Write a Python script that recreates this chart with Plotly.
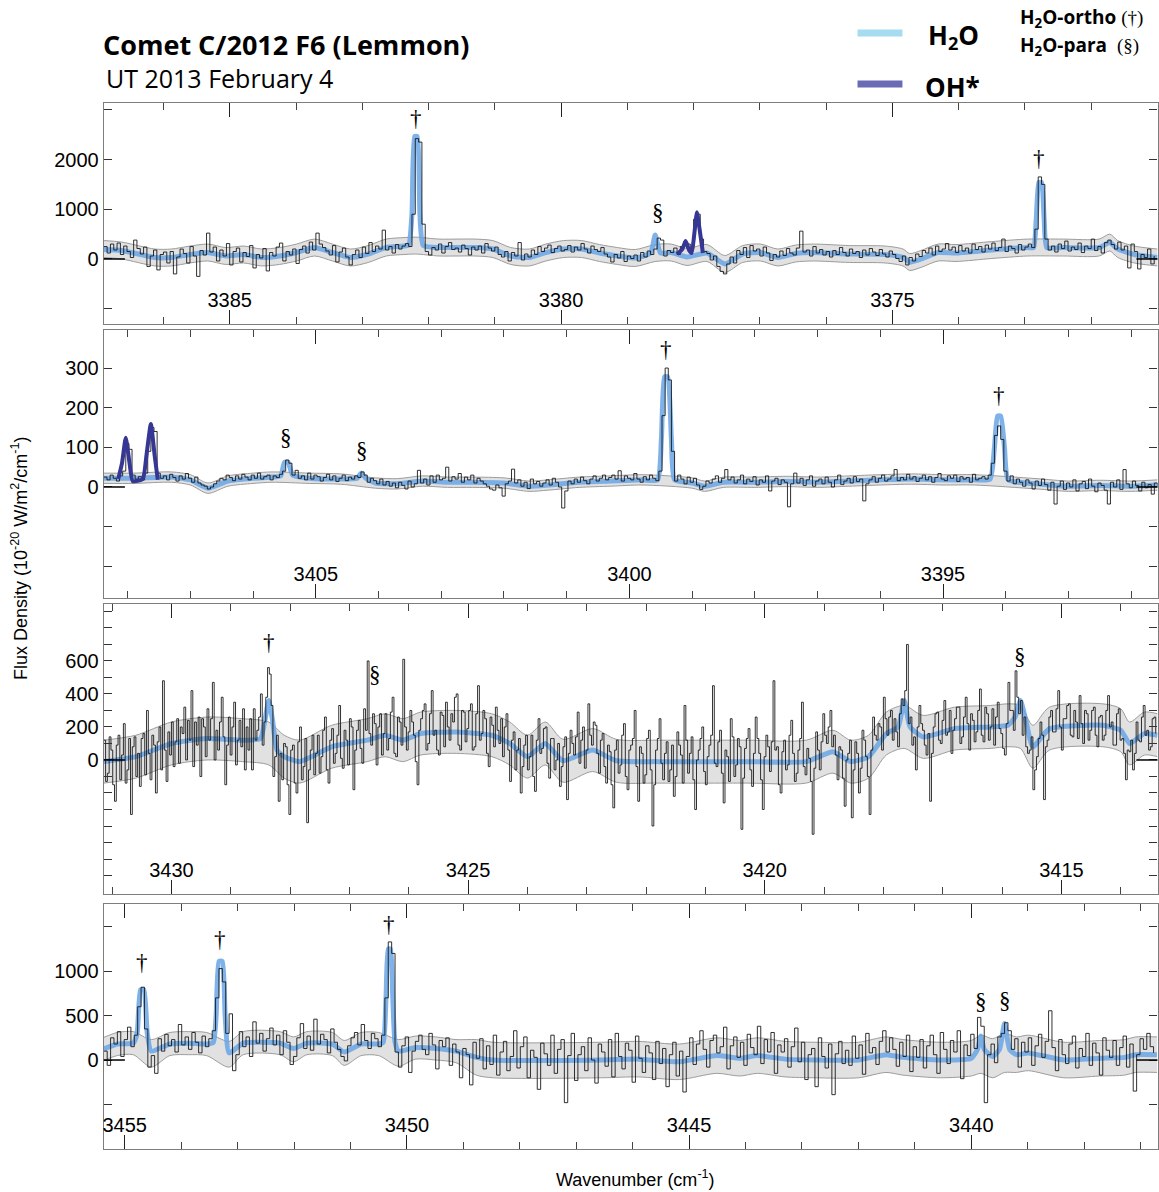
import plotly.graph_objects as go

# ---------------- DATA ----------------
# Panel 1 (3386.9 -> 3371.0 cm-1), observed flux, uniform grid
p1_start, p1_step = 3386.9, -0.05
p1_flux = [250, 120, 300, 180, 320, 90, 260, 150, 30, 380, 210, 100, 240, -150, 60, 180, -220, 90, 140, -80,
           150, -300, 40, 200, 110, -80, 250, 60, -350, 170, 80, 520, 140, 240, -40, 180, 60, 310, -120, 150,
           220, -60, 130, 50, 270, -180, 90, 20, 210, -240, 130, 60, 240, 320, -40, 150, 80, 200, -90, 190,
           260, 120, 340, 180, 520, 300, 230, 160, 80, 270, -60, 140, 220, 40, -120, 90, 180, 30, 240, 110,
           330, 150, 260, 200, 580, 180, 250, 120, 290, 200, 260, 310, 250, 900, 2420, 2350, 700, 150, 80, 230,
           180, 300, 120, 250, 330, 190, 220, 140, 280, 210, 80, 240, 180, 260, 120, 310, 220, 160, 240, 90,
           40, 150, -40, 130, 60, 330, -20, 100, 40, 180, 90, 250, 150, 220, 280, 130, 210, 260, 160, 190,
           270, 140, 240, 180, 310, 200, 120, 260, 190, 150, 230, 100, 40, -60, 90, 20, 150, -50, 60, 10,
           80, -40, 130, 40, 160, 90, 200, 420, 380, 60, 170, 130, 220, 90, 250, 350, 300, 200, 800, 900,
           400, 150, 110, -20, 60, -150, -250, -300, -100, 40, -80, 170, 90, 230, 30, 270, 160, 200, 60, 240,
           120, -30, 90, 40, 160, 70, 210, 120, 80, 220, 560, 140, 180, 60, 250, 120, 190, 80, 150, 40,
           170, 90, 230, 130, 60, 200, 110, 150, 30, 180, 80, 210, 140, 70, 190, 100, 40, 160, 90, 10,
           -50, 60, -120, 30, -40, 100, 50, 170, 120, 220, 80, 260, 150, 200, 310, 180, 240, 130, 270, 160,
           220, 120, 300, 190, 250, 140, 280, 200, 320, 170, 230, 400, 150, 260, 210, 120, 290, 180, 240, 300,
           230, 600, 1650, 1500, 400, 180, 260, 140, 300, 210, 360, 160, 240, 190, 320, 130, 260, 210, 400, 170,
           250, 120, 330, 380, 290, 200, 340, 180, 260, -180, 300, 150, -200, 90, 30, 200, -100, 60]
p1_model_x = [3386.9, 3386.63, 3386.13, 3385.88, 3385.6, 3385.33, 3385.06, 3384.79, 3384.52, 3384.25, 3383.99,
              3383.72, 3383.45, 3383.18, 3382.91, 3382.64, 3382.37, 3382.3, 3382.25, 3382.21, 3382.17, 3382.13,
              3382.08, 3381.84, 3381.57, 3381.3, 3381.03, 3380.76, 3380.48, 3380.23, 3379.96, 3379.69, 3379.42,
              3379.15, 3378.88, 3378.65, 3378.58, 3378.5, 3378.34, 3378.1, 3377.8, 3377.53, 3377.26, 3376.99,
              3376.73, 3376.46, 3376.19, 3375.65, 3375.11, 3374.84, 3374.74, 3374.57, 3374.31, 3374.04, 3373.5,
              3372.96, 3372.87, 3372.83, 3372.79, 3372.75, 3372.71, 3372.67, 3372.42, 3371.88, 3371.72, 3371.6,
              3371.35, 3371.0]
p1_model_y = [190, 170, 30, 30, 90, 130, 60, 90, 30, 60, 130, 230, 130, 30, 100, 230, 260, 280, 900, 2460, 2460,
              900, 270, 230, 230, 230, 200, 60, 30, 130, 200, 200, 120, 60, 20, 120, 480, 120, 130, 40, 120, -100,
              100, 130, 30, 110, 130, 100, 90, 30, -60, 0, 130, 120, 180, 230, 230, 800, 1540, 1540, 800, 230, 230,
              230, 330, 200, 90, 30]
p1_band_x = [3386.9, 3386.63, 3386.13, 3385.88, 3385.6, 3385.33, 3385.06, 3384.79, 3384.52, 3384.25, 3383.99,
             3383.72, 3383.45, 3383.18, 3382.91, 3382.64, 3382.37, 3382.2, 3381.84, 3381.57, 3381.3, 3381.03,
             3380.76, 3380.48, 3380.23, 3379.96, 3379.69, 3379.42, 3379.15, 3378.88, 3378.58, 3378.34, 3378.1,
             3377.8, 3377.53, 3377.26, 3376.99, 3376.73, 3376.46, 3376.19, 3375.65, 3375.11, 3374.84, 3374.74,
             3374.57, 3374.31, 3374.04, 3373.5, 3372.96, 3372.42, 3371.88, 3371.72, 3371.6, 3371.35, 3371.0]
p1_band_lo = [30, 0, -140, -140, -80, -40, -110, -80, -140, -110, -40, 60, -40, -140, -70, 60, 90, 100, 60, 60,
              60, 30, -110, -140, -40, 30, 30, -50, -110, -150, -50, -40, -130, -50, -270, -70, -40, -140, -60,
              -40, -70, -80, -140, -230, -170, -40, -50, 10, 60, 60, 60, 160, 30, -80, -140]
p1_band_hi = [370, 340, 200, 200, 260, 300, 230, 260, 200, 230, 300, 400, 300, 200, 270, 400, 430, 440, 400, 400,
              400, 370, 230, 200, 300, 370, 370, 290, 230, 190, 290, 300, 210, 290, 70, 270, 300, 200, 280, 300,
              270, 260, 200, 110, 170, 300, 290, 350, 400, 400, 400, 500, 370, 260, 200]
p1_oh_x = [3378.25, 3378.17, 3378.12, 3378.07, 3378.03, 3377.99, 3377.95, 3377.91, 3377.86]
p1_oh_y = [100, 200, 360, 180, 120, 500, 940, 600, 120]
p1_marks = [("†", 3382.19, 2820), ("§", 3378.54, 940), ("†", 3372.79, 2020)]

# Panel 2 (3408.38 -> 3391.58 cm-1)
p2_start, p2_step = 3408.38, -0.05
p2_flux = [25, 18, 30, 22, 15, 28, 40, 110, 95, 30, 20, 26, 18, 35, 90, 150, 140, 35, 22, 28,
           18, 32, 24, 15, 28, 20, 34, 22, 12, 25, 10, 5, 2, -5, 0, 8, 15, 22, 18, 30,
           24, 16, 28, 20, 32, 25, 18, 30, 22, 35, 20, 26, 30, 18, 28, 24, 32, 40, 68, 60,
           30, 42, 22, 28, 18, 35, 20, 30, 26, 15, 24, 32, 18, 28, 14, 22, 30, 16, 25, 20,
           28, 24, 38, 30, 12, 22, 16, 8, 20, 5, 14, 2, 10, -2, 12, 4, -5, 15, 0, 8,
           42, 10, 20, 5, 28, 12, 30, 18, 22, 50, 15, 26, 20, 34, 12, 25, 18, 30, 10, 22,
           15, 8, 2, -5, -8, 5, -2, -23, 8, 15, 45, 10, 18, 2, 12, -4, 20, 8, 14, 2,
           10, 18, 5, 22, 12, 0, -53, -10, 15, 8, 20, 12, 25, 16, 8, 20, 28, 15, 22, 30,
           18, 24, 30, 20, 41, 15, 28, 22, 18, 34, 20, 12, 26, 18, 30, 22, 16, 40, 180, 300,
           270, 90, 15, 30, 20, 8, 25, 12, 22, 5, -6, 2, 15, 10, 20, 28, 12, 22, 44, 18,
           25, 10, 18, 30, 8, 20, 14, 26, 5, 18, 12, 28, -10, 15, 22, 6, 18, 12, -50, 8,
           35, 10, 22, 4, 18, 28, 2, 15, 20, 8, 25, 12, 0, 18, 30, 6, 15, 22, 10, 26,
           14, 20, -35, 8, 18, 26, 12, 22, 30, 15, 20, 28, 44, 16, 24, 18, 32, 20, 26, 14,
           22, 30, 18, 26, 12, 24, 34, 20, 16, 28, 22, 30, 14, 26, 20, 24, 12, 32, 18, 22,
           26, 20, 30, 60, 130, 154, 120, 40, 15, 28, 8, 20, 12, 2, 18, 10, -5, 15, 4, 20,
           6, -8, 12, -43, 2, 15, -6, 10, 0, 18, -10, 8, 14, -4, 20, 2, -12, 10, 4, -8,
           -43, 12, 0, 18, -6, 44, 8, -2, 15, 4, -10, 12, -2, 6, -18, 10, 2]
p2_model_x = [3408.38, 3407.9, 3407.3, 3407.0, 3406.72, 3406.4, 3406.0, 3405.7, 3405.56, 3405.5, 3405.44,
              3405.37, 3405.1, 3404.6, 3404.34, 3404.28, 3404.2, 3404.05, 3403.7, 3403.3, 3402.9, 3402.5,
              3402.0, 3401.6, 3401.3, 3400.8, 3400.3, 3399.8, 3399.55, 3399.49, 3399.44, 3399.39, 3399.33,
              3399.28, 3399.0, 3398.8, 3398.5, 3398.0, 3397.5, 3397.0, 3396.5, 3396.0, 3395.5, 3395.0, 3394.5,
              3394.25, 3394.18, 3394.13, 3394.08, 3394.02, 3393.96, 3393.5, 3393.0, 3392.5, 3392.0, 3391.58]
p2_model_y = [22, 22, 25, 18, -3, 15, 22, 25, 28, 62, 62, 30, 22, 20, 22, 35, 22, 10, 8, 15, 12, 12, 10, 2, 5,
              12, 15, 18, 18, 120, 278, 278, 120, 18, 10, 2, 12, 12, 14, 12, 15, 18, 20, 18, 18, 20, 100, 179,
              179, 100, 18, 8, 2, 4, 2, 5]
p2_band_x = [3408.38, 3407.9, 3407.3, 3407.0, 3406.72, 3406.4, 3406.0, 3405.7, 3405.1, 3404.6, 3404.05, 3403.7,
             3403.3, 3402.9, 3402.5, 3402.0, 3401.6, 3401.3, 3400.8, 3400.3, 3399.8, 3399.0, 3398.8, 3398.5,
             3398.0, 3397.5, 3397.0, 3396.5, 3396.0, 3395.5, 3395.0, 3394.5, 3393.5, 3393.0, 3392.5, 3392.0,
             3391.58]
p2_band_lo = [9, 9, 12, 5, -16, 2, 9, 12, 9, 7, -3, -5, 2, -1, -1, -3, -11, -8, -1, 2, 5, -3, -11, -1, -1, 1,
              -1, 2, 5, 7, 5, 5, -5, -11, -9, -11, -8]
p2_band_hi = [35, 35, 38, 31, 10, 28, 35, 38, 35, 33, 23, 21, 28, 25, 25, 23, 15, 18, 25, 28, 31, 23, 15, 25,
              25, 27, 25, 28, 31, 33, 31, 31, 21, 15, 17, 15, 18]
p2_oh_x = [3408.15, 3408.09, 3408.03, 3407.97, 3407.92, 3407.76, 3407.7, 3407.63, 3407.57, 3407.52]
p2_oh_y = [20, 60, 124, 60, 15, 20, 80, 159, 80, 18]
p2_marks = [("§", 3405.47, 124), ("§", 3404.27, 91), ("†", 3399.42, 348), ("†", 3394.11, 230)]

# Panel 3 (3431.14 -> 3413.38 cm-1)
p3_start, p3_step = 3431.14, -0.03
p3_flux = [120, -130, -80, 140, 60, -150, -250, 90, 150, -120, 30, 220, -140, -60, 130, -330, 80, 140, -100, 40,
           -160, 130, 160, -90, 300, 40, -120, 150, 90, -200, 110, 200, -60, 480, 60, -130, 170, 30, 230, -40,
           110, 250, -20, 200, 160, 320, 0, 240, 120, 420, -40, 230, 90, 260, -100, 250, 200, 20, 310, 120,
           250, 470, 0, 180, 60, 230, 380, 140, -150, 90, 260, 30, 200, 350, -30, 120, 240, 80, 310, -60,
           200, 60, 250, -60, 310, 120, 180, 260, 400, 90, 230, 380, 560, 520, 330, -100, 20, 150, -250, 40,
           -120, 100, 80, -150, -330, 60, 90, -140, -200, 110, 200, -120, -40, 130, -380, -60, 60, 150, -90, 40,
           150, -80, 20, 180, 260, -60, -140, 120, 190, -20, 40, 150, 330, 10, -50, 180, 120, -30, 250, 200,
           -180, 60, 180, 240, 70, -20, 310, 180, 600, 160, 90, 280, 220, -30, 200, 280, 30, 160, 280, 60,
           130, 290, 380, 40, 20, 260, 230, 90, 610, 200, 60, 170, 300, 230, 150, -10, -150, 180, 250, 300,
           340, 60, 100, 280, 420, 150, 180, 60, 30, 290, 270, 80, 350, 200, 120, 280, 230, 380, 400, 90,
           60, 300, 290, 110, 190, 300, 340, 60, 80, 280, 450, 120, 160, 300, 250, 40, -40, 260, 210, 80,
           320, 180, 100, 250, 20, 200, 280, 60, -130, 120, 170, -60, 60, 130, -200, -40, 90, 150, -60, 20,
           150, -100, -190, 120, 250, 40, 70, 190, 200, -20, -110, 130, 130, -60, 0, 100, -160, -40, 80, 140,
           -240, 40, 180, 100, 30, 140, 290, -20, 120, 200, -50, 60, 340, 150, 90, 230, 210, 40, -80, 120,
           160, -40, -140, 90, 50, -150, -290, 60, 120, -80, -30, 150, 220, -100, -180, 60, 90, 130, 300, -40,
           -250, 80, 40, -140, -90, 130, 180, -60, -400, -150, 60, 130, 250, -20, -120, 40, 110, -130, -60, 90,
           -220, -100, 170, 90, 30, -140, 330, 120, -80, 40, 140, -120, -300, 0, 60, 130, 200, -70, -150, 20,
           90, 150, 450, -20, -40, 110, 180, -80, -260, 60, 20, -130, 250, 140, -100, -30, 130, 80, -420, -110,
           70, 130, 190, -60, -160, 40, 260, 130, 40, -120, -300, 20, 150, 80, -70, 110, 480, 60, 80, -150,
           -200, 50, 120, -60, -30, 150, 240, 40, -130, -80, 60, 130, 350, -40, -90, 70, 10, -130, -450, -50,
           170, 60, -60, 110, 280, 150, 100, 200, 300, 80, 150, 30, -120, 80, 60, -110, -280, 0, 40, 120,
           -350, -60, 110, 40, -200, -50, 180, 120, 20, -100, -330, 60, 260, 150, 120, 220, 200, 60, 380, 250,
           150, 260, 300, 120, 250, 170, 80, 280, 370, 330, 420, 700, 220, 260, 90, 140, -60, 200, 330, 220,
           180, 90, 30, 160, -250, 40, 200, 280, 290, 120, 100, 240, 360, 150, 170, 300, 40, 180, 250, 320,
           320, 100, 140, 260, 380, 220, 60, 280, 240, 110, 170, 300, 430, 150, 110, 320, 280, 120, 200, 310,
           90, 260, 350, 190, 160, 70, 30, 220, 470, 300, 300, 180, 540, 380, 280, 360, 150, 260, 80, 40,
           60, 140, -180, -60, 20, 130, 230, 150, -240, 80, 120, 260, 300, 170, 170, 310, 420, 200, 60, 250,
           250, 330, 340, 150, 140, 300, 230, 130, 390, 220, 100, 300, 280, 120, 180, 300, 320, 150, 80, 260,
           270, 120, 150, 300, 390, 200, 230, 90, 90, 280, 310, 120, 130, 40, -120, 60, 50, 120, -60, 40,
           230, 120, 110, 260, 330, 150, 180, 60, 80, 250, 260, 160]
p3_model_x = [3431.14, 3430.6, 3430.0, 3429.4, 3428.8, 3428.5, 3428.42, 3428.36, 3428.3, 3428.22, 3428.1,
              3427.84, 3427.3, 3426.7, 3426.4, 3426.1, 3425.8, 3425.2, 3424.6, 3424.3, 3424.0, 3423.7, 3423.4,
              3422.9, 3422.5, 3421.8, 3420.3, 3419.3, 3418.85, 3418.55, 3418.25, 3417.95, 3417.75, 3417.65,
              3417.55, 3417.33, 3416.8, 3416.2, 3415.9, 3415.78, 3415.69, 3415.6, 3415.48, 3415.2, 3414.3,
              3414.0, 3413.85, 3413.6, 3413.38]
p3_model_y = [-10, 20, 100, 130, 120, 130, 250, 360, 250, 60, 20, -10, 80, 120, 150, 120, 160, 170, 150, 100, 20,
              100, -5, 60, -5, -10, -10, -10, 50, -10, 20, 160, 200, 360, 200, 140, 190, 200, 210, 260, 360, 240,
              80, 190, 210, 180, 100, 160, 150]
p3_band_x = [3431.14, 3430.6, 3430.0, 3429.4, 3428.8, 3428.36, 3428.1, 3427.84, 3427.3, 3426.7, 3426.4, 3426.1,
             3425.8, 3425.2, 3424.6, 3424.3, 3424.0, 3423.7, 3423.4, 3422.9, 3422.5, 3421.8, 3420.3, 3419.3,
             3418.85, 3418.55, 3418.25, 3417.95, 3417.65, 3417.33, 3416.8, 3416.2, 3415.9, 3415.69, 3415.48,
             3415.2, 3414.3, 3414.0, 3413.85, 3413.6, 3413.38]
p3_band_lo = [-140, -110, -30, 0, -10, -30, -110, -140, -50, -10, 20, -10, 30, 40, 20, -30, -110, -30, -135, -70,
              -135, -140, -140, -140, -80, -140, -110, 30, 70, 10, 60, 70, 80, 70, -50, 60, 80, 50, -30, 30, 20]
p3_band_hi = [120, 150, 230, 260, 250, 230, 150, 120, 210, 250, 280, 250, 290, 300, 280, 230, 150, 230, 125, 190,
              125, 120, 120, 120, 180, 120, 150, 290, 330, 270, 320, 330, 340, 330, 210, 320, 340, 310, 230, 290,
              280]
p3_marks = [("†", 3428.35, 713), ("§", 3426.57, 515), ("§", 3415.69, 629)]

# Panel 4 (3455.37 -> 3436.7 cm-1)
p4_start, p4_step = 3455.37, -0.06
p4_flux = [100, -60, 250, 180, 320, 40, 230, 370, 150, 280, 600, 820, 350, -80, 50, -150, 240, 100, 290, 160,
           230, 90, 400, 170, 260, 120, 310, 200, 80, 270, 150, 240, 330, 700, 1030, 880, 300, 520, -120, 60,
           320, 150, 260, 40, 430, 190, 300, 100, 240, 360, 170, 280, 60, 330, 200, -50, 40, 250, 410, 130,
           270, 110, 460, 180, 290, 230, 80, 350, 200, 120, 40, -10, 160, 250, 310, 170, 400, 220, 130, 300,
           240, 150, 280, 700, 1330, 1200, 90, -80, 160, 260, -140, 100, 210, 280, 120, 60, 300, 170, -100, 220,
           150, 250, -60, 180, 90, -200, 130, 60, -280, 200, 20, 240, -100, 160, -50, 280, -170, 90, 210, -120,
           40, 330, -90, 150, 260, -200, 110, 30, -330, 190, 70, -60, 280, -150, 120, 230, -480, 50, 300, -230,
           60, 150, -120, 250, 0, -260, 180, 90, -70, 230, -190, 300, 40, -100, 190, 110, -250, 270, 20, -140,
           160, 80, -220, 210, -40, 130, -300, 60, 200, -180, 100, -360, 40, 250, -50, 180, 330, 120, -80, 220,
           280, 80, 150, 370, -100, 160, 260, 30, 200, -60, 290, 140, 60, 380, -40, 230, 90, 310, -150, 170,
           90, 240, -80, 150, 360, -20, 200, -220, 60, 130, -300, 250, 40, -90, 180, -390, 70, 210, -40, 110,
           -60, 270, 20, 170, -160, 300, 80, 140, -50, 210, 330, 90, 250, 120, -70, 200, 40, 280, -130, 150,
           30, 230, -90, 160, 280, 60, -150, 310, 120, -40, 220, 90, 330, -210, 170, 50, 290, 130, 480, 380,
           -480, 60, 180, -30, 260, 300, 420, 330, 120, 240, -80, 200, 90, 250, -60, 160, 290, 30, 210, 555,
           140, -120, 230, 60, -40, 180, 270, -90, 130, 40, 300, -60, 190, 80, -170, 250, 110, 30, 220, -60,
           140, 270, -80, 180, -350, 60, 240, 120, 300, 150, 80]
p4_model_x = [3455.37, 3455.13, 3454.85, 3454.78, 3454.72, 3454.66, 3454.6, 3454.53, 3454.2, 3453.87, 3453.55,
              3453.43, 3453.38, 3453.33, 3453.27, 3453.22, 3453.15, 3452.9, 3452.25, 3452.01, 3451.77, 3451.32,
              3451.11, 3450.81, 3450.5, 3450.42, 3450.37, 3450.33, 3450.29, 3450.25, 3450.21, 3450.15, 3449.85,
              3449.49, 3449.13, 3448.77, 3448.47, 3446.55, 3445.9, 3445.17, 3444.51, 3444.1, 3443.79, 3443.3,
              3442.77, 3442.0, 3441.51, 3441.21, 3440.55, 3440.0, 3439.89, 3439.83, 3439.77, 3439.62, 3439.5,
              3439.41, 3439.32, 3439.2, 3438.99, 3438.36, 3437.73, 3437.28, 3437.09, 3436.71]
p4_model_y = [125, 180, 190, 300, 790, 790, 300, 100, 180, 190, 180, 200, 500, 1110, 1110, 500, 80, 190, 190, 130,
              190, 180, 90, 180, 180, 200, 700, 1250, 1250, 700, 200, 100, 140, 130, 100, 30, 0, 0, 10, -20, 50,
              20, 50, 10, 0, 0, 60, 30, 0, 20, 120, 270, 120, 40, 120, 410, 120, 60, 80, 0, 20, 30, 60, 60]
p4_band_x = [3455.37, 3455.13, 3454.85, 3454.53, 3454.2, 3453.87, 3453.55, 3453.15, 3452.9, 3452.25, 3452.01,
             3451.77, 3451.32, 3451.11, 3450.81, 3450.5, 3450.15, 3449.85, 3449.49, 3449.13, 3448.77, 3448.47,
             3446.55, 3445.9, 3445.17, 3444.51, 3444.1, 3443.79, 3443.3, 3442.77, 3442.0, 3441.51, 3441.21,
             3440.55, 3440.0, 3439.83, 3439.62, 3439.41, 3439.2, 3438.99, 3438.36, 3437.73, 3437.28, 3437.09,
             3436.71]
p4_band_lo = [-5, 50, 60, -80, 50, 60, 50, -80, 60, 60, -20, 60, 50, -60, 50, 50, -70, 10, 0, -30, -170, -200,
              -200, -190, -220, -150, -180, -150, -190, -200, -200, -140, -170, -200, -180, -150, -200, -140, -140,
              -120, -200, -180, -170, -140, -140]
p4_band_hi = [255, 310, 320, 230, 310, 320, 310, 210, 320, 320, 260, 320, 310, 220, 310, 310, 230, 270, 260, 230,
              230, 200, 200, 210, 180, 250, 220, 250, 210, 200, 200, 260, 230, 200, 220, 280, 240, 300, 260, 280,
              200, 220, 230, 260, 260]
p4_marks = [("†", 3454.70, 1102), ("†", 3453.32, 1352), ("†", 3450.32, 1523), ("§", 3439.83, 659),
            ("§", 3439.41, 670)]

# y-axis ticks per panel
p1_yticks, p1_ylabels = [-1000, 0, 1000, 2000, 3000], ["", "0", "1000", "2000", ""]
p2_yticks, p2_ylabels = [-200, -100, 0, 100, 200, 300], ["", "", "0", "100", "200", "300"]
p3_yticks = [-700, -600, -500, -400, -300, -200, -100, 0, 100, 200, 300, 400, 500, 600, 700, 800, 900]
p3_ylabels = ["", "", "", "", "", "", "", "0", "", "200", "", "400", "", "600", "", "", ""]
p4_yticks, p4_ylabels = [-1000, -500, 0, 500, 1000, 1500], ["", "", "0", "500", "1000", ""]

# ---------------- FIGURE ----------------
SANS = "Liberation Sans, Arial, Helvetica, sans-serif"
TITLEF = "Open Sans, Noto Sans, sans-serif"
SERIF = "Liberation Serif, Times New Roman, serif"
W, H = 1159, 1192

panels = [
    dict(start=p1_start, step=p1_step, flux=p1_flux, mx=p1_model_x, my=p1_model_y, bx=p1_band_x,
         blo=p1_band_lo, bhi=p1_band_hi, ohx=p1_oh_x, ohy=p1_oh_y, marks=p1_marks,
         xr=[3386.9, 3371.0], yr=[-1307, 3136], yt=p1_yticks, yl=p1_ylabels, top=103, bot=324),
    dict(start=p2_start, step=p2_step, flux=p2_flux, mx=p2_model_x, my=p2_model_y, bx=p2_band_x,
         blo=p2_band_lo, bhi=p2_band_hi, ohx=p2_oh_x, ohy=p2_oh_y, marks=p2_marks,
         xr=[3408.38, 3391.58], yr=[-280, 396], yt=p2_yticks, yl=p2_ylabels, top=330, bot=598),
    dict(start=p3_start, step=p3_step, flux=p3_flux, mx=p3_model_x, my=p3_model_y, bx=p3_band_x,
         blo=p3_band_lo, bhi=p3_band_hi, ohx=None, ohy=None, marks=p3_marks,
         xr=[3431.14, 3413.38], yr=[-812, 945], yt=p3_yticks, yl=p3_ylabels, top=604, bot=894),
    dict(start=p4_start, step=p4_step, flux=p4_flux, mx=p4_model_x, my=p4_model_y, bx=p4_band_x,
         blo=p4_band_lo, bhi=p4_band_hi, ohx=None, ohy=None, marks=p4_marks,
         xr=[3455.37, 3436.7], yr=[-1002, 1757], yt=p4_yticks, yl=p4_ylabels, top=904, bot=1149),
]

fig = go.Figure()
layout = {}
shapes = []
annotations = []
xdom = [103 / W, 1158.5 / W]

for k, p in enumerate(panels, start=1):
    xa = "x" if k == 1 else f"x{k}"
    ya = "y" if k == 1 else f"y{k}"
    wn = [p["start"] + p["step"] * i for i in range(len(p["flux"]))]
    common = dict(xaxis=xa, yaxis=ya, hoverinfo="skip", showlegend=False)
    fig.add_trace(go.Scatter(x=p["bx"], y=p["blo"], mode="lines",
                             line=dict(color="#9c9c9c", width=1, shape="spline", smoothing=0.8), **common))
    fig.add_trace(go.Scatter(x=p["bx"], y=p["bhi"], mode="lines", fill="tonexty",
                             fillcolor="rgba(200,200,200,0.55)",
                             line=dict(color="#9c9c9c", width=1, shape="spline", smoothing=0.8), **common))
    fig.add_trace(go.Scatter(x=p["mx"], y=p["my"], mode="lines",
                             line=dict(color="rgba(105,165,228,0.85)", width=5, shape="spline", smoothing=0.5),
                             **common))
    fig.add_trace(go.Scatter(x=wn, y=p["flux"], mode="lines",
                             line=dict(color="rgba(20,20,20,0.88)", width=1, shape="hv"), **common))
    if p["ohx"]:
        fig.add_trace(go.Scatter(x=p["ohx"], y=p["ohy"], mode="lines",
                                 line=dict(color="#363694", width=4, shape="spline", smoothing=0.5), **common))

    dom = [1 - p["bot"] / H, 1 - p["top"] / H]
    layout["xaxis" if k == 1 else f"xaxis{k}"] = dict(
        domain=xdom, range=p["xr"], anchor=ya, showline=True, mirror="ticks", linecolor="#7d7d7d",
        linewidth=1.2, ticks="inside", ticklen=14, tickwidth=1.2, tickcolor="#222",
        tickmode="linear", tick0=0, dtick=5, ticklabelposition="inside", ticklabeloverflow="allow",
        tickfont=dict(family=SANS, size=20, color="black"),
        minor=dict(ticks="inside", ticklen=7, tickwidth=1, tickcolor="#444", tickmode="linear", tick0=0,
                   dtick=1, showgrid=False),
        showgrid=False, zeroline=False, fixedrange=True)
    layout["yaxis" if k == 1 else f"yaxis{k}"] = dict(
        domain=dom, range=p["yr"], anchor=xa, showline=True, mirror="ticks", linecolor="#7d7d7d",
        linewidth=1.2, ticks="inside", ticklen=8, tickwidth=1, tickcolor="#333",
        tickmode="array", tickvals=p["yt"], ticktext=p["yl"],
        tickfont=dict(family=SANS, size=20, color="black"),
        showgrid=False, zeroline=False, fixedrange=True)

    for side in ((0, 0.02), (0.98, 1.0)):
        shapes.append(dict(type="line", xref=f"{xa} domain", yref=ya, x0=side[0], x1=side[1], y0=0, y1=0,
                           line=dict(color="black", width=1.5)))
    for sym, mx_, my_ in p["marks"]:
        annotations.append(dict(x=mx_, y=my_, xref=xa, yref=ya, text=sym, showarrow=False,
                                font=dict(family=SERIF, size=23, color="black"),
                                xanchor="center", yanchor="middle"))

# titles / legend
annotations += [
    dict(x=100 / W, y=1 - 44 / H, xref="paper", yref="paper", xanchor="left", yanchor="middle",
         text="<b>Comet C/2012 F6 (Lemmon)</b>", showarrow=False,
         font=dict(family=TITLEF, size=27, color="black")),
    dict(x=103 / W, y=1 - 78 / H, xref="paper", yref="paper", xanchor="left", yanchor="middle",
         text="UT 2013 February 4", showarrow=False, font=dict(family=TITLEF, size=25, color="black")),
    dict(x=927 / W, y=1 - 36 / H, xref="paper", yref="paper", xanchor="left", yanchor="middle",
         text="<b>H<sub>2</sub>O</b>", showarrow=False, font=dict(family=TITLEF, size=26, color="black")),
    dict(x=924 / W, y=1 - 87 / H, xref="paper", yref="paper", xanchor="left", yanchor="middle",
         text="<b>OH*</b>", showarrow=False, font=dict(family=TITLEF, size=26, color="black")),
    dict(x=1019 / W, y=1 - 18 / H, xref="paper", yref="paper", xanchor="left", yanchor="middle",
         text="<b>H<sub>2</sub>O-ortho</b> <span style='font-family:Liberation Serif'>(†)</span>",
         showarrow=False, font=dict(family=TITLEF, size=19, color="black")),
    dict(x=1019 / W, y=1 - 46 / H, xref="paper", yref="paper", xanchor="left", yanchor="middle",
         text="<b>H<sub>2</sub>O-para</b>  <span style='font-family:Liberation Serif'>(§)</span>",
         showarrow=False, font=dict(family=TITLEF, size=19, color="black")),
    dict(x=18 / W, y=1 - 558 / H, xref="paper", yref="paper", xanchor="center", yanchor="middle",
         textangle=-90, text="Flux Density (10<sup>-20</sup> W/m<sup>2</sup>/cm<sup>-1</sup>)",
         showarrow=False, font=dict(family=SANS, size=18, color="black")),
    dict(x=636 / W, y=1 - 1178 / H, xref="paper", yref="paper", xanchor="center", yanchor="middle",
         text="Wavenumber (cm<sup>-1</sup>)", showarrow=False, font=dict(family=SANS, size=18, color="black")),
]
shapes += [
    dict(type="line", xref="paper", yref="paper", x0=858 / W, x1=903 / W, y0=1 - 33 / H, y1=1 - 33 / H,
         line=dict(color="#a6dcef", width=7)),
    dict(type="line", xref="paper", yref="paper", x0=858 / W, x1=903 / W, y0=1 - 84 / H, y1=1 - 84 / H,
         line=dict(color="#6b6bb5", width=7)),
]

fig.update_layout(width=W, height=H, margin=dict(l=0, r=0, t=0, b=0), paper_bgcolor="white",
                  plot_bgcolor="white", showlegend=False, shapes=shapes, annotations=annotations, **layout)
fig.write_html("out.html")
